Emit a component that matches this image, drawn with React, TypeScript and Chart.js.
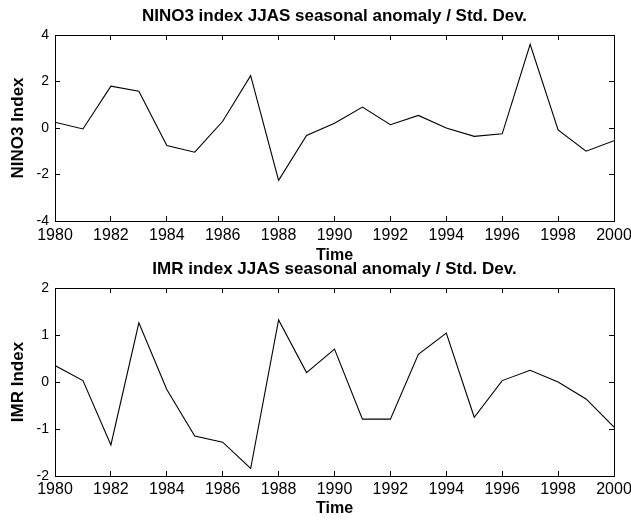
import React, { useEffect, useRef } from "react";
import { Chart, registerables } from "chart.js";

Chart.register(...registerables);

// ---- data ----
const years = [1980, 1981, 1982, 1983, 1984, 1985, 1986, 1987, 1988, 1989, 1990, 1991, 1992, 1993, 1994, 1995, 1996, 1997, 1998, 1999, 2000];
const nino3Values = [0.25, -0.04, 1.8, 1.58, -0.75, -1.04, 0.29, 2.25, -2.25, -0.32, 0.2, 0.9, 0.14, 0.54, 0.0, -0.36, -0.25, 3.6, -0.08, -1.0, -0.55];
const imrValues = [0.35, 0.03, -1.34, 1.26, -0.16, -1.15, -1.28, -1.84, 1.32, 0.2, 0.7, -0.79, -0.79, 0.59, 1.04, -0.75, 0.03, 0.25, 0.0, -0.36, -0.96];
const xTickValues = [1980, 1982, 1984, 1986, 1988, 1990, 1992, 1994, 1996, 1998, 2000];
const ninoTickValues = [-4, -2, 0, 2, 4];
const imrTickValues = [-2, -1, 0, 1, 2];
const ninoTitle = "NINO3 index JJAS seasonal anomaly / Std. Dev.";
const imrTitle = "IMR index JJAS seasonal anomaly / Std. Dev.";
const ninoYLabel = "NINO3 Index";
const imrYLabel = "IMR Index";
const xLabel = "Time";

const X_TICK_FONT = { family: "'Liberation Sans', Arial, sans-serif", size: 16 };
const Y_TICK_FONT = { family: "'Liberation Sans', Arial, sans-serif", size: 14 };
const TITLE_FONT = { family: "'Liberation Sans', Arial, sans-serif", size: 17, weight: "bold" as const };
const XLABEL_FONT = { family: "'Liberation Sans', Arial, sans-serif", size: 16, weight: "bold" as const };
const YLABEL_FONT = { family: "'Liberation Sans', Arial, sans-serif", size: 17, weight: "bold" as const };

type PanelProps = {
  title: string;
  yLabel: string;
  values: number[];
  yTicks: number[];
  top: number;
  height: number;
  areaBottom: number;
  titlePadTop: number;
  titlePadBottom: number;
  xTitlePadBottom: number;
  xTickPad: number;
};

function zeroPad(s: any) {
  s.paddingLeft = 0;
  s.paddingRight = 0;
  s.paddingTop = 0;
  s.paddingBottom = 0;
}

function Panel(p: PanelProps) {
  const ref = useRef<HTMLCanvasElement | null>(null);
  useEffect(() => {
    if (!ref.current) return;
    const yMin = p.yTicks[0];
    const yMax = p.yTicks[p.yTicks.length - 1];
    const grid = { drawOnChartArea: false, drawTicks: true, tickLength: -5, color: "#000", lineWidth: 1 };
    const border = { display: true, color: "#000", width: 1 };
    const setX = (s: any) => { s.ticks = xTickValues.map((v) => ({ value: v })); };
    const setY = (s: any) => { s.ticks = p.yTicks.map((v) => ({ value: v })); };
    const chart = new Chart(ref.current, {
      type: "line",
      data: {
        datasets: [
          {
            data: years.map((yr, i) => ({ x: yr, y: p.values[i] })),
            borderColor: "#000",
            borderWidth: 1.1,
            pointRadius: 0,
            tension: 0,
            fill: false,
            xAxisID: "x",
            yAxisID: "y",
          },
        ],
      },
      options: {
        responsive: false,
        animation: false,
        events: [],
        layout: { padding: { left: 0, right: 17, top: 0, bottom: 0 } },
        plugins: {
          legend: { display: false },
          tooltip: { enabled: false },
          title: {
            display: true,
            text: p.title,
            color: "#000",
            font: TITLE_FONT,
            fullSize: false,
            padding: { top: p.titlePadTop, bottom: p.titlePadBottom },
          },
        },
        scales: {
          x: {
            type: "linear",
            position: "bottom",
            min: 1980,
            max: 2000,
            afterBuildTicks: setX,
            ticks: { color: "#000", font: X_TICK_FONT, padding: p.xTickPad, maxRotation: 0, autoSkip: false, callback: (v: any) => String(v) },
            grid,
            border,
            title: { display: true, text: xLabel, color: "#000", font: XLABEL_FONT, padding: { top: 0, bottom: p.xTitlePadBottom } },
            afterFit: (s: any) => { s.height = p.height - p.areaBottom; zeroPad(s); },
          },
          xTop: {
            type: "linear",
            position: "top",
            min: 1980,
            max: 2000,
            afterBuildTicks: setX,
            ticks: { display: false },
            grid,
            border,
            afterFit: (s: any) => { s.height = 0; zeroPad(s); },
          },
          y: {
            type: "linear",
            position: "left",
            min: yMin,
            max: yMax,
            afterBuildTicks: setY,
            ticks: { color: "#000", font: Y_TICK_FONT, padding: 11, autoSkip: false, callback: (v: any) => String(v) },
            grid,
            border,
            title: { display: true, text: p.yLabel, color: "#000", font: YLABEL_FONT, padding: { top: 8, bottom: 0 } },
            afterFit: (s: any) => { s.width = 55; zeroPad(s); },
          },
          yRight: {
            type: "linear",
            position: "right",
            min: yMin,
            max: yMax,
            afterBuildTicks: setY,
            ticks: { display: false },
            grid,
            border,
            afterFit: (s: any) => { s.width = 0; zeroPad(s); },
          },
        },
      } as any,
    });
    return () => chart.destroy();
  }, []);
  return (
    <canvas
      ref={ref}
      width={631}
      height={p.height}
      style={{ position: "absolute", left: 0, top: p.top, width: 631, height: p.height, display: "block" }}
    />
  );
}

export default function App() {
  return (
    <div style={{ position: "absolute", left: 0, top: 0, width: 631, height: 523, background: "#fff", overflow: "hidden" }}>
      <Panel
        title={ninoTitle}
        yLabel={ninoYLabel}
        values={nino3Values}
        yTicks={ninoTickValues}
        top={0}
        height={272}
        areaBottom={221}
        titlePadTop={5.8}
        titlePadBottom={8.8}
        xTitlePadBottom={6.4}
        xTickPad={9.9}
      />
      <Panel
        title={imrTitle}
        yLabel={imrYLabel}
        values={imrValues}
        yTicks={imrTickValues}
        top={256}
        height={267}
        areaBottom={220}
        titlePadTop={2.8}
        titlePadBottom={8.8}
        xTitlePadBottom={4.4}
        xTickPad={9.4}
      />
    </div>
  );
}
